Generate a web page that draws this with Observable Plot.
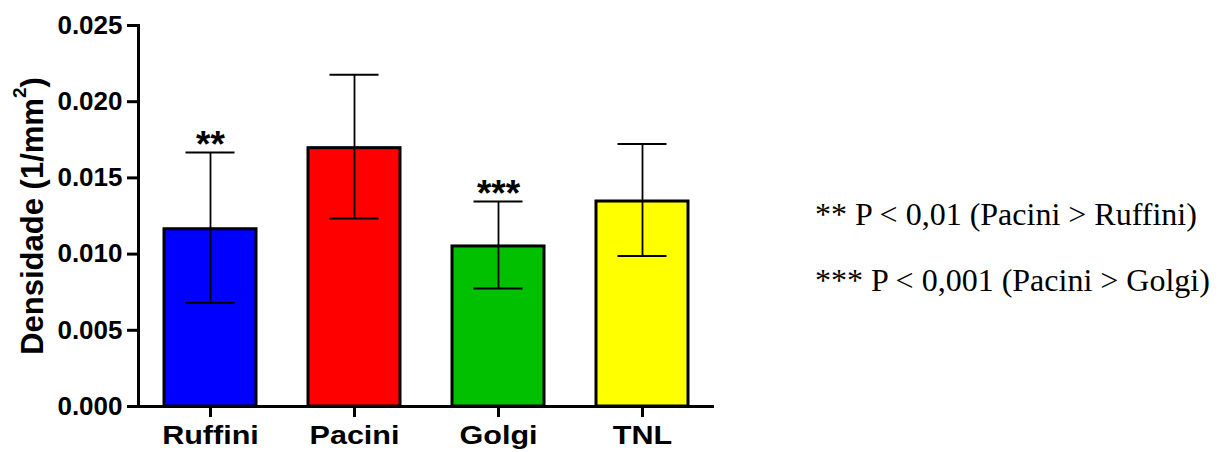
<!DOCTYPE html>
<html><head><meta charset="utf-8">
<script src="https://cdn.jsdelivr.net/npm/d3@7"></script>
<script src="https://cdn.jsdelivr.net/npm/@observablehq/plot@0.6"></script>
<style>
html,body{margin:0;padding:0;background:#fff;}
#wrap{position:relative;width:1226px;height:452px;overflow:hidden;}
.note{position:absolute;left:815px;font-family:"Liberation Serif","Times New Roman",serif;font-size:32px;line-height:32px;white-space:nowrap;color:#000;}
</style></head><body>
<div id="wrap"></div>
<script>
const categories = ["Ruffini", "Pacini", "Golgi", "TNL"];
const means = [0.01173, 0.01705, 0.01060, 0.01355];
const errors = [0.00493, 0.00472, 0.00285, 0.00367];
const stars = ["**", "", "***", ""];
const colors = ["#0000ff", "#ff0000", "#00c000", "#ffff00"];
const yTicks = [0, 0.005, 0.010, 0.015, 0.020, 0.025];
const yLabel = "Densidade (1/mm²)";
const notes = ["** P < 0,01 (Pacini > Ruffini)", "*** P < 0,001 (Pacini > Golgi)"];

const data = categories.map((c, i) => ({name: c, mean: means[i], err: errors[i], stars: stars[i], color: colors[i]}));
const font = '"Liberation Sans", Arial, sans-serif';

const chart = Plot.plot({
  width: 1226, height: 452,
  marginLeft: 138, marginRight: 512, marginTop: 25, marginBottom: 46,
  style: {fontFamily: font, background: "#fff", color: "#000", overflow: "visible"},
  x: {domain: categories, paddingInner: 0.36, paddingOuter: 0.18},
  y: {domain: [0, 0.025]},
  marks: [
    Plot.barY(data, {x: "name", y: "mean", fill: "color", stroke: "#000", strokeWidth: 3, insetTop: 1.5, insetLeft: 0, insetRight: 0}),
    Plot.ruleX(data, {x: "name", y1: d => d.mean - d.err, y2: d => d.mean + d.err, stroke: "#000", strokeWidth: 1.8}),
    Plot.tickY(data, {x: "name", y: d => d.mean + d.err, stroke: "#000", strokeWidth: 2, inset: 21.5}),
    Plot.tickY(data, {x: "name", y: d => d.mean - d.err, stroke: "#000", strokeWidth: 2, inset: 21.5}),
    Plot.text(data.filter(d => d.stars), {x: "name", y: d => d.mean + d.err, text: "stars", fontSize: 37, fontWeight: "bold", fill: "#000", lineAnchor: "bottom", dy: 4}),
    Plot.axisY({ticks: yTicks, tickFormat: d3.format(".3f"), tickSize: 11, tickPadding: 5, strokeWidth: 3, fontSize: 26, fontWeight: "bold", fill: "#000", label: null}),
    Plot.axisX({tickSize: 11, tickPadding: 8, strokeWidth: 3, fontSize: 26, fontWeight: "bold", fill: "#000", label: null}),
    Plot.ruleY([0], {stroke: "#000", strokeWidth: 3}),
    Plot.frame({anchor: "left", stroke: "#000", strokeWidth: 3}),
    Plot.text([yLabel], {frameAnchor: "left", text: d => d, rotate: -90, textAnchor: "middle", lineAnchor: "top", fontSize: 31, fontWeight: "bold", fill: "#000", dx: -118})
  ]
});

const ns = "http://www.w3.org/2000/svg";
// superscript for the unit label
chart.querySelectorAll("text").forEach(t => {
  if (t.textContent === yLabel) {
    const base = yLabel.slice(0, yLabel.indexOf("²"));
    t.textContent = "";
    const a = document.createElementNS(ns, "tspan"); a.textContent = base;
    const b = document.createElementNS(ns, "tspan"); b.textContent = "2"; b.setAttribute("font-size", "19"); b.setAttribute("dy", "-17");
    const c = document.createElementNS(ns, "tspan"); c.textContent = ")"; c.setAttribute("dy", "17");
    t.append(a, b, c);
  }
});
// the category labels are drawn horizontally wider in the reference
chart.querySelectorAll('g[aria-label="x-axis tick label"] text').forEach(t => {
  const tr = t.getAttribute("transform") || "";
  t.setAttribute("transform", tr + " scale(1.175,1)");
});

const wrap = document.getElementById("wrap");
wrap.appendChild(chart);
const tops = [198.2, 264.2];
notes.forEach((n, i) => {
  const d = document.createElement("div");
  d.className = "note";
  d.style.top = tops[i] + "px";
  d.textContent = n;
  wrap.appendChild(d);
});
</script>
</body></html>
